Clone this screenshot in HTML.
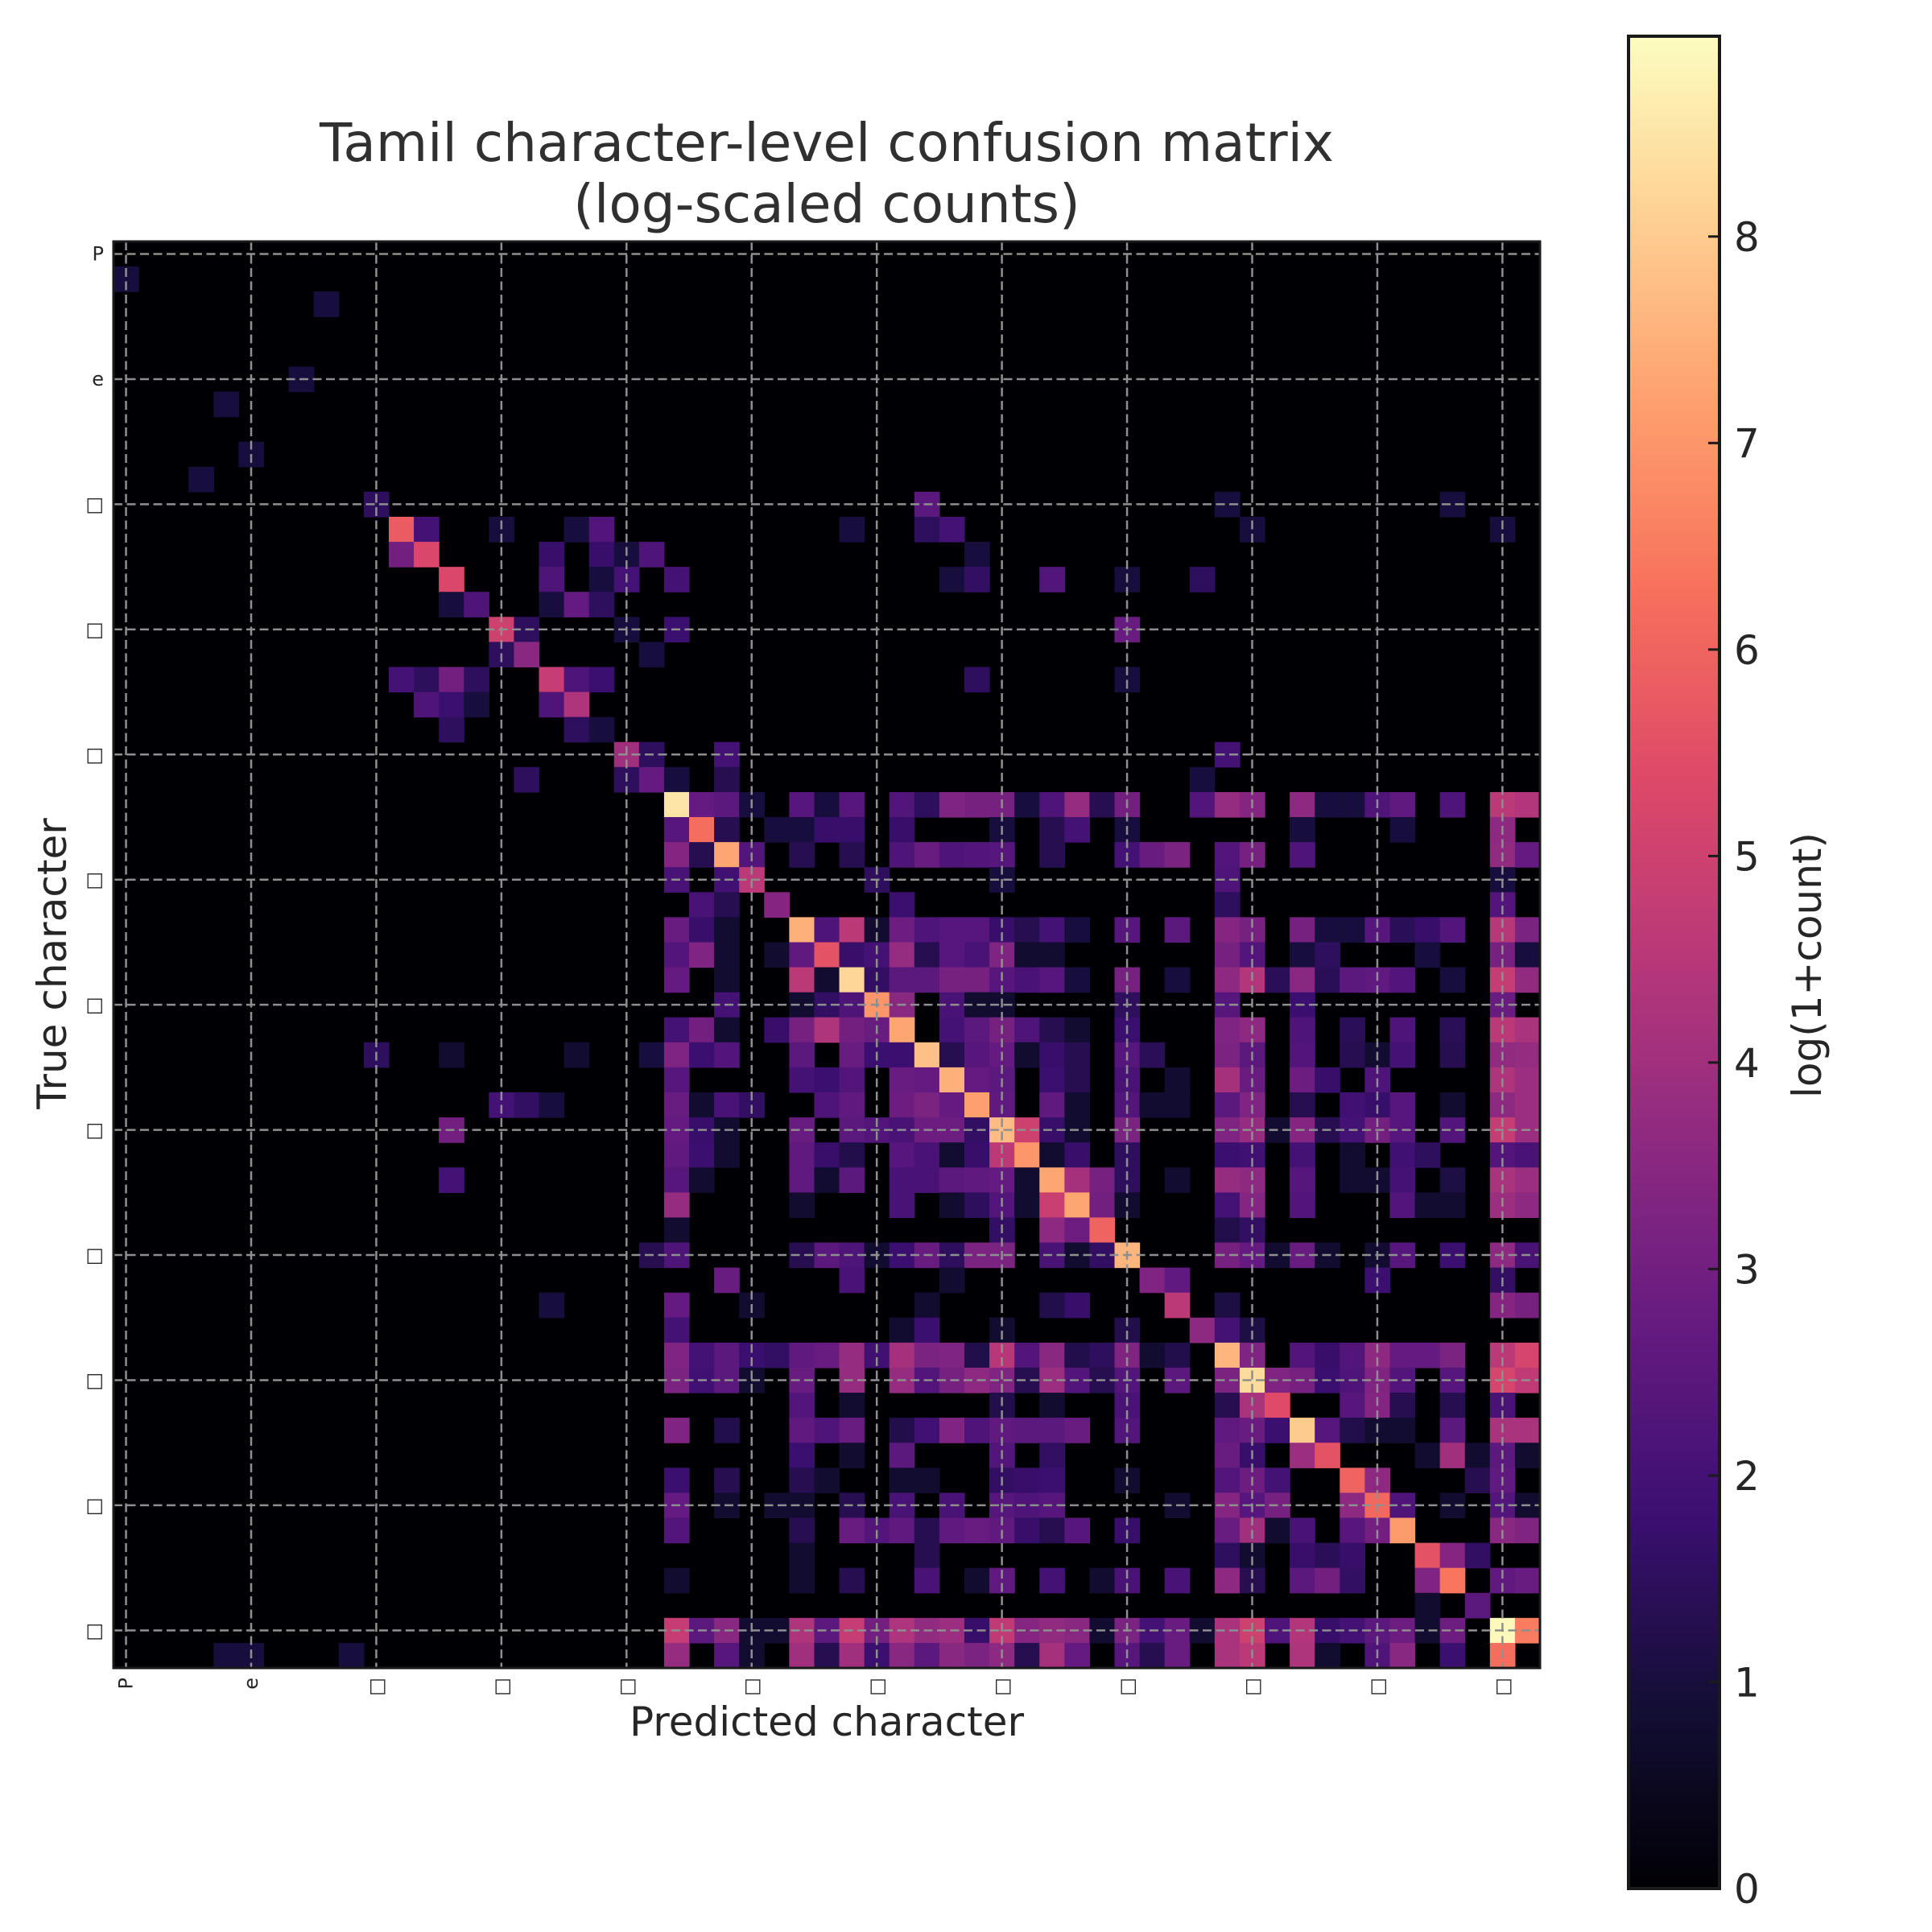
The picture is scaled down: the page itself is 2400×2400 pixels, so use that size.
<!DOCTYPE html>
<html>
<head>
<meta charset="utf-8">
<style>
  html,body{margin:0;padding:0;background:#ffffff;}
  svg{display:block;}
  text{font-family:"DejaVu Sans","Liberation Sans",sans-serif;fill:#262626;}
</style>
</head>
<body>
<svg id="chart" xmlns="http://www.w3.org/2000/svg" width="2400" height="2400" viewBox="0 0 2400 2400">
  <rect x="0" y="0" width="2400" height="2400" fill="#ffffff"/>
  <text x="1027" y="200" font-size="66" text-anchor="middle" style="fill:#303030">Tamil character-level confusion matrix</text>
  <text x="1027" y="276" font-size="66" text-anchor="middle" style="fill:#303030">(log-scaled counts)</text>
  <rect x="141" y="300" width="1772" height="1772" fill="#000004"/>
  <g id="cells"></g>
  <g id="grid"></g>
  <rect x="141" y="300" width="1772" height="1772" fill="none" stroke="#1a1a1a" stroke-width="3"/>
  <g id="xticks"></g>
  <g id="yticks"></g>
  <text x="1027" y="2156" font-size="50" text-anchor="middle">Predicted character</text>
  <text x="0" y="0" font-size="50" text-anchor="middle" transform="translate(82,1197) rotate(-90)">True character</text>
  <defs>
    <linearGradient id="magmaGrad" x1="0" y1="1" x2="0" y2="0"></linearGradient>
  </defs>
  <rect x="2023" y="45" width="113" height="2301" fill="url(#magmaGrad)" stroke="#1a1a1a" stroke-width="4"/>
  <g id="cbticks"></g>
  <text x="0" y="0" font-size="50" text-anchor="middle" transform="translate(2262,1199) rotate(-90)">log(1+count)</text>
</svg>
<script>
// ---- chart data ----
const tickLabels = ["P","e","□","□","□","□","□","□","□","□","□","□"];
const tickIndex = [0,5,10,15,20,25,30,35,40,45,50,55];
const colorbarTicks = [0,1,2,3,4,5,6,7,8];
const valueMax = 8.97;
const matrixSize = 57;
const matrixRows = [1,2,5,6,8,9,10,11,12,13,14,15,16,17,18,19,20,21,22,23,24,25,26,27,28,29,30,31,32,33,34,35,36,37,38,39,40,41,42,43,44,45,46,47,48,49,50,51,52,53,54,55,56];
const matrixCols = [
[0],[8],[7],[4],[5],[3],
[10,32,44,53],
[11,12,15,18,19,29,32,33,45,55],
[11,12,17,19,20,21,34],
[13,17,19,20,22,33,34,37,40,43],
[13,14,17,18,19],
[15,16,20,22,40],
[15,16,21],
[11,12,13,14,17,18,19,34,40],
[12,13,14,17,18],
[13,18,19],
[20,21,24,44],
[16,20,21,22,24,43],
[22,23,24,25,27,28,29,31,32,33,34,35,36,37,38,39,40,43,44,45,47,48,49,50,51,53,55,56],
[22,23,24,26,27,28,29,31,35,37,38,40,47,51,55],
[22,23,24,25,27,29,31,32,33,34,35,37,40,41,42,44,45,47,55,56],
[22,24,25,30,35,44,55],
[23,24,26,31,44,55],
[22,23,24,27,28,29,30,31,32,33,34,35,36,37,38,40,42,44,45,47,48,49,50,51,52,53,55,56],
[22,23,24,26,27,28,29,30,31,32,33,34,35,36,37,44,45,47,48,52,55,56],
[22,24,27,28,29,30,31,32,33,34,35,36,37,38,40,42,44,45,46,47,48,49,50,51,53,55,56],
[24,27,28,29,30,31,33,34,35,40,44,47,55],
[22,23,24,26,27,28,29,30,31,33,34,35,36,37,38,40,44,45,47,49,51,53,55,56],
[10,13,18,21,22,23,24,27,29,30,31,32,33,34,35,36,37,38,40,41,44,45,47,49,50,51,53,55,56],
[22,27,28,29,31,32,33,34,35,37,38,40,42,44,45,47,48,50,55,56],
[15,16,17,22,23,24,25,28,29,31,32,33,34,35,37,38,40,41,42,44,45,47,49,50,51,53,55,56],
[13,22,23,24,27,29,30,31,32,33,34,35,36,37,38,40,44,45,46,47,48,49,50,51,53,55,56],
[22,23,24,27,28,29,31,32,33,34,35,36,37,38,40,44,45,47,49,51,52,55,56],
[13,22,23,27,28,29,31,32,33,34,35,36,37,38,39,40,42,44,45,47,49,50,51,53,55,56],
[22,27,31,33,34,35,36,37,38,39,40,44,45,47,51,52,53,55,56],
[22,35,37,38,39,44,45],
[21,22,27,28,29,30,31,32,33,34,35,37,38,39,40,44,45,46,47,48,50,51,53,55,56],
[24,29,33,41,42,50,55],
[17,22,25,32,37,38,42,44,55,56],
[22,31,32,35,40,43,44,45],
[22,23,24,25,26,27,28,29,30,31,32,33,34,35,36,37,38,39,40,41,42,44,45,47,48,49,50,51,52,53,55,56],
[22,23,24,25,27,29,31,32,33,34,35,36,37,38,39,40,42,44,45,46,47,48,49,50,51,53,55,56],
[27,29,35,37,40,44,45,46,49,50,51,53,55],
[22,24,27,28,29,31,32,33,34,35,36,37,38,40,44,45,46,47,48,49,50,51,53,55,56],
[27,29,31,35,37,44,45,47,48,52,53,54,55,56],
[22,24,27,28,31,32,35,36,37,40,44,45,46,49,50,54,55],
[22,24,26,27,29,31,33,35,36,37,42,44,45,46,49,50,51,53,55,56],
[22,27,29,30,31,32,33,34,35,36,37,38,40,44,45,46,47,49,50,51,55,56],
[27,32,44,45,47,48,49,52,53,54],
[22,27,29,32,34,35,37,39,40,42,44,45,47,48,49,52,53,55,56],
[52,54],
[22,23,24,25,26,27,28,29,30,31,32,33,34,35,36,37,38,39,40,41,42,43,44,45,46,47,48,49,50,51,52,53,55,56],
[4,5,9,22,24,25,27,28,29,30,31,32,33,34,35,36,37,38,40,41,42,44,45,47,48,50,51,53,55]
];
const matrixVals = [
[1.0],[1.0],[1.0],[1.0],[1.0],[1.0],
[1.5,2.5,1.0,1.0],
[5.8,2.0,1.0,1.0,2.3,1.0,1.5,2.0,1.0,1.0],
[3.0,5.3,1.7,1.7,1.0,2.2,1.0],
[5.3,2.2,1.0,2.0,2.0,1.0,1.6,2.3,1.0,1.5],
[1.0,2.2,1.0,2.7,1.5],
[5.0,1.5,1.0,1.8,2.8],
[1.5,3.5,1.0],
[2.0,1.5,3.0,1.5,4.8,2.2,1.8,1.5,1.0],
[2.2,1.8,1.0,2.2,4.3],
[1.5,1.5,1.0],
[4.0,1.5,2.0,2.0],
[1.5,1.5,2.7,1.0,1.3,1.0],
[8.5,2.7,2.5,1.0,2.4,1.0,2.4,2.3,1.5,3.3,3.1,3.1,1.0,2.2,3.8,1.3,3.0,2.3,3.8,3.4,3.6,1.0,1.0,2.2,2.6,2.2,4.6,4.4],
[2.4,6.2,1.3,1.0,1.0,1.7,1.7,1.7,1.0,1.3,2.0,1.0,1.0,1.0,3.6],
[3.4,1.3,7.3,2.3,1.3,1.3,2.2,2.8,2.2,2.3,2.4,1.3,2.0,2.8,3.2,2.3,3.1,2.2,3.7,2.7],
[2.1,1.9,4.6,1.5,1.0,2.2,1.0],
[2.1,1.3,3.4,1.8,1.5,2.3],
[2.8,1.7,0.8,7.5,2.2,4.6,0.8,2.9,2.2,2.4,2.4,1.7,1.3,2.0,1.0,2.4,2.5,3.4,3.1,3.1,1.0,1.0,2.4,1.4,1.7,2.3,4.5,3.2],
[2.3,3.3,0.8,0.8,2.6,5.6,1.7,2.0,3.8,1.3,2.4,2.1,3.3,0.8,0.8,3.1,2.3,1.0,1.5,1.0,3.1,1.0],
[2.7,0.8,4.6,0.8,8.2,1.6,2.5,2.5,3.1,3.1,2.4,2.1,2.4,1.0,3.1,1.0,3.6,4.4,1.4,3.5,1.4,2.5,2.6,2.3,1.0,4.8,3.7],
[2.0,0.8,1.6,2.2,7.0,3.5,2.1,0.8,0.8,1.5,2.4,1.8,2.8],
[2.0,3.0,0.8,1.7,3.1,4.3,3.0,2.8,7.3,2.0,2.5,3.1,2.2,1.3,0.8,1.8,3.3,3.6,2.2,1.4,2.2,1.4,4.6,4.2],
[1.5,0.8,0.8,1.0,3.3,1.8,2.3,2.5,2.8,1.8,1.8,7.8,1.3,2.4,2.7,0.8,1.7,1.3,2.4,1.4,3.2,2.5,2.3,1.3,0.8,2.0,1.3,3.7,3.8],
[2.4,2.0,1.8,2.3,2.8,2.7,7.5,2.7,2.5,1.8,1.3,2.1,0.8,4.1,2.8,2.9,1.7,2.2,4.3,3.9],
[2.0,1.6,1.0,2.8,0.8,2.1,1.6,2.2,2.6,2.9,3.2,2.7,7.2,2.6,2.6,0.8,2.3,0.8,0.8,2.5,3.3,1.3,1.9,1.7,2.4,0.8,3.6,3.9],
[3.0,2.7,1.7,0.8,2.8,2.5,2.3,2.1,2.9,2.9,1.6,7.7,5.0,1.7,0.8,3.2,3.3,3.8,0.8,3.4,1.3,2.0,3.0,2.4,2.3,4.8,3.9],
[2.6,1.8,0.8,2.6,1.7,1.2,2.4,2.1,0.8,1.7,4.6,7.0,0.8,1.7,1.5,1.8,1.9,2.0,0.8,1.9,1.5,2.3,2.1],
[2.0,2.4,0.8,2.6,0.8,2.5,2.1,2.1,2.5,2.6,2.7,0.8,7.3,4.1,3.1,1.5,0.8,3.8,3.6,2.4,0.8,0.8,2.0,1.1,4.2,3.9],
[3.8,0.8,2.1,0.8,1.5,2.3,0.8,4.9,7.3,3.0,0.8,2.0,3.4,2.3,2.3,0.8,0.8,3.9,3.6],
[0.8,1.6,3.6,2.9,6.0,1.2,1.6],
[1.3,2.2,1.3,2.5,2.2,0.8,1.8,2.8,1.5,3.2,3.2,2.1,0.8,1.6,7.6,3.1,2.7,0.8,2.8,0.8,0.8,2.4,1.8,3.6,2.1],
[2.8,2.1,0.8,3.3,2.6,1.8,1.6],
[1.0,2.7,0.8,0.8,1.2,1.7,4.6,1.1,3.4,3.1],
[2.0,0.8,1.8,0.8,1.2,3.6,2.0,1.1],
[3.3,2.0,2.5,1.8,1.6,2.6,2.8,3.8,1.9,4.1,3.2,3.3,1.2,4.5,2.3,3.5,1.2,1.5,3.3,0.8,1.2,7.6,3.3,2.3,1.7,2.3,3.6,2.7,2.7,3.2,4.6,5.2],
[3.2,1.9,2.5,0.8,2.8,3.8,3.8,2.3,3.1,3.6,3.3,1.3,3.9,2.3,1.3,2.3,2.5,3.2,8.3,3.3,3.1,1.8,2.2,3.3,2.3,2.4,5.2,4.7],
[2.3,0.8,1.2,0.8,2.1,1.3,4.2,5.4,2.4,3.4,1.3,1.3,2.1],
[3.3,1.2,2.6,2.2,2.8,1.2,1.9,3.3,2.2,2.6,2.5,2.5,2.8,2.3,2.6,2.8,1.8,8.0,2.4,1.2,0.8,0.8,2.5,4.2,4.2],
[1.8,0.8,2.5,2.3,1.6,2.8,1.7,3.9,5.6,0.8,4.0,0.8,2.5,0.8],
[1.8,1.3,1.3,0.8,0.8,0.8,1.6,1.7,1.8,0.8,2.3,2.9,2.0,6.0,3.6,1.3,2.6],
[2.7,0.8,0.8,0.8,1.3,2.1,2.1,2.4,2.2,2.4,0.8,3.4,2.4,3.1,3.6,6.1,2.2,0.8,2.3,0.8],
[2.3,1.3,2.8,2.3,2.6,1.3,2.6,2.8,2.6,1.7,1.3,2.4,1.7,2.8,4.0,0.8,2.1,2.4,3.0,7.1,3.5,3.3],
[0.8,1.3,1.5,0.8,1.7,1.4,1.7,5.6,3.4,1.6],
[0.8,0.8,1.3,2.1,0.8,2.6,2.0,0.8,2.1,2.1,3.6,1.3,2.5,3.0,1.6,3.3,6.4,2.6,2.8],
[0.8,2.5],
[4.8,2.5,3.5,0.8,0.8,4.3,2.5,4.8,3.0,4.3,3.7,3.9,1.7,4.7,3.4,3.7,3.5,0.8,3.2,2.0,2.8,0.8,4.2,5.0,2.2,4.4,1.7,2.0,2.5,2.9,0.8,2.9,8.9,6.5],
[1.0,1.0,1.0,3.8,2.4,0.8,4.0,1.3,4.0,1.8,3.5,2.5,3.5,3.2,3.6,1.3,4.1,2.7,2.4,1.3,2.8,4.2,4.6,4.3,0.8,2.2,3.5,1.8,6.2]
];

// ---- layout ----
const NS = "http://www.w3.org/2000/svg";
const plotX = 141, plotY = 300, plotW = 1772, plotH = 1772;
const cellW = plotW / matrixSize, cellH = plotH / matrixSize;
const cbX = 2023, cbY = 45, cbW = 113, cbH = 2301;

function xScale(c){ return plotX + c * cellW; }
function yScale(r){ return plotY + r * cellH; }
function cbScale(v){ return cbY + cbH - (v / valueMax) * cbH; }

const magmaStops = ["#000004","#140e36","#3b0f70","#641a80","#8c2981","#b73779","#de4968","#f7705c","#fe9f6d","#fecf92","#fcfdbf"];
function hexToRgb(h){ return [parseInt(h.slice(1,3),16),parseInt(h.slice(3,5),16),parseInt(h.slice(5,7),16)]; }
function magma(t){
  t = Math.max(0, Math.min(1, t));
  const p = t * (magmaStops.length - 1);
  const i = Math.min(Math.floor(p), magmaStops.length - 2);
  const f = p - i;
  const a = hexToRgb(magmaStops[i]), b = hexToRgb(magmaStops[i+1]);
  const c = a.map((v,k)=>Math.round(v + (b[k]-v)*f));
  return "rgb(" + c.join(",") + ")";
}

// cells
const cellsG = document.getElementById("cells");
matrixRows.forEach(function(r, ri){
  matrixCols[ri].forEach(function(c, ci){
    const v = matrixVals[ri][ci];
    const rect = document.createElementNS(NS, "rect");
    
    
    rect.setAttribute("x", xScale(c).toFixed(2));
    rect.setAttribute("y", yScale(r).toFixed(2));
    rect.setAttribute("width", (cellW + 0.6).toFixed(2));
    rect.setAttribute("height", (cellH + 0.6).toFixed(2));
    rect.setAttribute("fill", magma(v / valueMax));
    cellsG.appendChild(rect);
  });
});

// gridlines + tick labels
const gridG = document.getElementById("grid");
const xtG = document.getElementById("xticks");
const ytG = document.getElementById("yticks");
tickIndex.forEach(function(idx, k){
  const cx = xScale(idx + 0.5), cy = yScale(idx + 0.5);
  const vl = document.createElementNS(NS, "line");
  
  
  vl.setAttribute("x1", cx); vl.setAttribute("x2", cx);
  vl.setAttribute("y1", plotY); vl.setAttribute("y2", plotY + plotH);
  vl.setAttribute("stroke", "#8f8f8f"); vl.setAttribute("stroke-width", "2.5");
  vl.setAttribute("stroke-dasharray", "11 5.5");
  gridG.appendChild(vl);
  const hl = document.createElementNS(NS, "line");
  
  
  hl.setAttribute("x1", plotX); hl.setAttribute("x2", plotX + plotW);
  hl.setAttribute("y1", cy); hl.setAttribute("y2", cy);
  hl.setAttribute("stroke", "#8f8f8f"); hl.setAttribute("stroke-width", "2.5");
  hl.setAttribute("stroke-dasharray", "11 5.5");
  gridG.appendChild(hl);

  const xt = document.createElementNS(NS, "text");
  
  
  xt.setAttribute("font-size", "24");
  xt.setAttribute("text-anchor", "end");
  xt.setAttribute("transform", "translate(" + (cx + 8) + "," + (plotY + plotH + 12) + ") rotate(-90)");
  xt.textContent = tickLabels[k];
  xtG.appendChild(xt);

  const yt = document.createElementNS(NS, "text");
  
  
  yt.setAttribute("font-size", "24");
  yt.setAttribute("text-anchor", "end");
  yt.setAttribute("x", plotX - 12);
  yt.setAttribute("y", cy + 8);
  yt.textContent = tickLabels[k];
  ytG.appendChild(yt);
});

// colorbar gradient
const grad = document.getElementById("magmaGrad");
for (let i = 0; i <= 40; i++) {
  const st = document.createElementNS(NS, "stop");
  st.setAttribute("offset", (i/40).toFixed(3));
  st.setAttribute("stop-color", magma(i/40));
  grad.appendChild(st);
}
// colorbar ticks
const cbG = document.getElementById("cbticks");
colorbarTicks.forEach(function(v){
  const y = cbScale(v);
  const tk = document.createElementNS(NS, "line");
  
  
  tk.setAttribute("x1", cbX + cbW - 14); tk.setAttribute("x2", cbX + cbW);
  tk.setAttribute("y1", y); tk.setAttribute("y2", y);
  tk.setAttribute("stroke", "#1a1a1a"); tk.setAttribute("stroke-width", "3");
  cbG.appendChild(tk);
  const lb = document.createElementNS(NS, "text");
  
  
  lb.setAttribute("x", cbX + cbW + 18);
  lb.setAttribute("y", y + 18);
  lb.setAttribute("font-size", "50");
  lb.textContent = String(v);
  cbG.appendChild(lb);
});
</script>
</body>
</html>
